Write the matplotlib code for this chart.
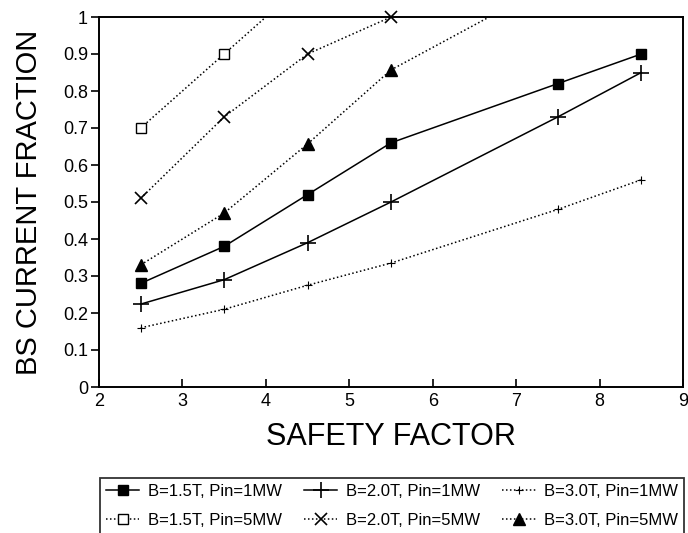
import matplotlib
matplotlib.use("Agg")
import matplotlib.pyplot as plt

plt.rcParams['font.family'] = ['Liberation Sans', 'DejaVu Sans']

# safety factor values
sf_1mw = [2.5, 3.5, 4.5, 5.5, 7.5, 8.5]
b15_1mw = [0.28, 0.38, 0.52, 0.66, 0.82, 0.90]
b20_1mw = [0.224, 0.29, 0.39, 0.50, 0.73, 0.85]
b30_1mw = [0.16, 0.21, 0.275, 0.335, 0.48, 0.56]

sf_b15_5mw = [2.5, 3.5, 4.5]
b15_5mw = [0.70, 0.90, 1.10]
sf_b20_5mw = [2.5, 3.5, 4.5, 5.5]
b20_5mw = [0.51, 0.73, 0.90, 1.00]
sf_b30_5mw = [2.5, 3.5, 4.5, 5.5, 7.5]
b30_5mw = [0.33, 0.47, 0.657, 0.857, 1.10]

labels = ['B=1.5T, Pin=1MW', 'B=2.0T, Pin=1MW', 'B=3.0T, Pin=1MW',
          'B=1.5T, Pin=5MW', 'B=2.0T, Pin=5MW', 'B=3.0T, Pin=5MW']

dots = (0, (1, 1.6))

fig = plt.figure(figsize=(6.88, 5.33), dpi=100)
ax = fig.add_axes([99/688, 1-387/533, (683-99)/688, (387-17)/533])

h1, = ax.plot(sf_1mw, b15_1mw, color='black', lw=1.1, marker='s', ms=7,
              mfc='black', mec='black', label=labels[0])
h2, = ax.plot(sf_1mw, b20_1mw, color='black', lw=1.1, marker='+', ms=11,
              mew=1.2, label=labels[1])
h3, = ax.plot(sf_1mw, b30_1mw, color='black', lw=1.1, ls=dots, marker='+',
              ms=6, mew=0.8, label=labels[2])
h4, = ax.plot(sf_b15_5mw, b15_5mw, color='black', lw=1.1, ls=dots, marker='s',
              ms=7.5, mfc='white', mec='black', mew=1.0, label=labels[3])
h5, = ax.plot(sf_b20_5mw, b20_5mw, color='black', lw=1.1, ls=dots, marker='x',
              ms=9, mew=1.2, label=labels[4], clip_on=False)
h6, = ax.plot(sf_b30_5mw, b30_5mw, color='black', lw=1.1, ls=dots, marker='^',
              ms=9, mfc='black', label=labels[5])

ax.set_xlim(2, 9)
ax.set_ylim(0, 1)
ax.set_xticks(range(2, 10))
ax.set_yticks([i/10 for i in range(11)])
ax.set_yticklabels(['0', '0.1', '0.2', '0.3', '0.4', '0.5', '0.6', '0.7',
                    '0.8', '0.9', '1'])
ax.tick_params(axis='x', direction='in', length=6, width=1.2, labelsize=13, pad=4)
ax.tick_params(axis='y', direction='out', length=6, width=1.2, labelsize=13, pad=2)
for s in ax.spines.values():
    s.set_linewidth(1.4)

ax.set_xlabel('SAFETY FACTOR', fontsize=22, labelpad=9)
ax.set_ylabel('BS CURRENT FRACTION', fontsize=21, labelpad=14)

leg = fig.legend(handles=[h1, h4, h2, h5, h3, h6], ncol=3,
                 loc='upper left', bbox_to_anchor=(100/688, 1-478/533),
                 fontsize=12, frameon=True, fancybox=False,
                 edgecolor='black', handlelength=2.0, handletextpad=0.5,
                 columnspacing=1.35, labelspacing=0.85, borderpad=0.35,
                 borderaxespad=0)
leg.get_frame().set_linewidth(1.3)

fig.savefig('out.png', dpi=100)
